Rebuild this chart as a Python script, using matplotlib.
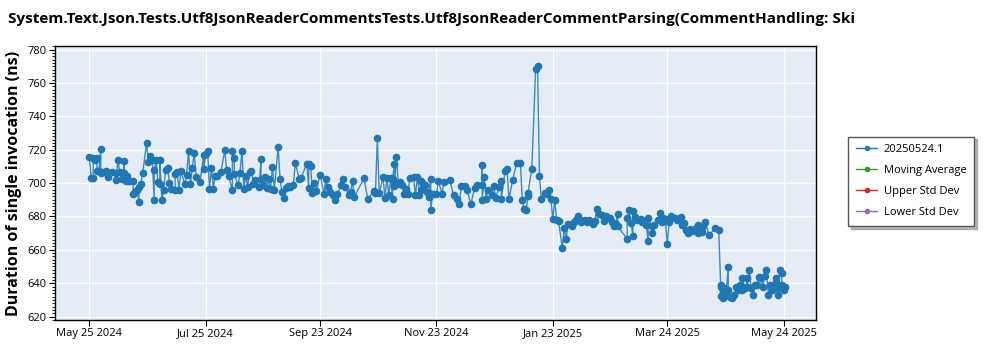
import numpy as np
import matplotlib
matplotlib.use("Agg")
import matplotlib.pyplot as plt
import matplotlib.dates as mdates
from matplotlib.ticker import MultipleLocator

# --- DATA ---
START_DATE = np.datetime64("2024-05-25")

# days after START_DATE for each run
day_offsets = [
    0, 1, 2, 2, 3, 4, 4, 5, 6, 6, 7, 9, 10, 12, 14, 14, 15, 16, 17, 18, 18, 19, 20, 21,
    23, 23, 24, 25, 26, 26, 27, 28, 30, 31, 32, 33, 34, 34, 35, 36, 37, 37, 38, 39, 40,
    41, 42, 43, 45, 45, 46, 47, 48, 50, 51, 52, 53, 54, 55, 56, 58, 60, 60, 61, 62, 63,
    64, 65, 66, 67, 69, 71, 72, 73, 75, 75, 76, 76, 78, 79, 80, 81, 82, 83, 84, 85,
    86, 87, 89, 90, 90, 91, 92, 93, 94, 95, 96, 97, 99, 100, 101, 102, 103, 104, 105,
    107, 108, 110, 111, 114, 115, 115, 116, 117, 118, 119, 121, 123, 124, 125, 126, 128,
    129, 130, 132, 133, 134, 136, 137, 138, 139, 144, 146, 149, 150, 151, 152, 154, 155,
    156, 157, 158, 159, 159, 160, 160, 161, 162, 163, 164, 165, 166, 167, 168, 170, 171,
    172, 173, 174, 174, 175, 176, 177, 178, 178, 179, 179, 180, 182, 183, 185, 186, 189,
    191, 193, 194, 195, 197, 198, 200, 202, 203, 206, 206, 206, 207, 208, 209, 211, 212,
    213, 215, 216, 216, 218, 219, 220, 222, 224, 226, 227, 228, 229, 230, 230, 232, 234,
    235, 236, 237, 239, 240, 241, 242, 243, 244, 245, 246,
    248, 249, 250, 251, 253, 254, 255, 256, 257, 258, 260, 261, 262, 264, 265, 266, 267,
    269, 270, 271, 273, 274, 275, 276, 277, 277, 282, 282, 283, 284, 285, 285, 286, 287,
    289, 290, 292, 293, 293, 295, 295, 296, 298, 299, 300, 301, 302, 303, 304, 305, 307,
    308, 310, 311, 312, 313, 314, 315, 316, 318, 319, 319, 321, 322, 323, 325, 328, 330,
    331, 331, 331, 332, 332, 333, 334, 334, 335, 335, 336, 337, 338, 339, 340, 341, 342,
    342, 344, 345, 345, 346, 347, 348, 349, 350, 351, 352, 353, 354, 355, 356, 357, 358,
    359, 360, 360, 361, 361, 362, 363, 363, 364, 365,
]

# duration of single invocation (ns)
durations = [
    715.5, 703, 703, 714.8, 713.6, 714.8, 707, 707, 720.6, 706, 706.4, 707, 703.5, 706.4,
    706, 702, 714, 706.4, 702.5, 706, 713, 701, 704, 701.5, 701, 693.4, 694.8, 696,
    688.6, 697.7, 699.6, 706, 724, 712.6, 716, 713.6, 690, 707.8, 714, 700.6, 699.6,
    713.6, 690, 695.7, 707.8, 709.3, 700, 696.7, 696, 705.5, 706.4, 695.7, 707.4, 699.2,
    705, 719, 699.2, 709.3, 717.9, 703.5, 700.6, 717, 708.4, 717.5, 719.4, 696.7, 709.3,
    696.7, 704.5, 704.5, 706.4, 719.6, 708, 704, 696, 719, 715, 705.5, 698.7, 706, 719.4,
    696.7, 704.5, 697.7, 706.4, 707,
    699.6, 701.6, 697.7, 714.2, 702.5, 698.7, 703.5, 697.1, 702.5, 696.3, 709.9, 696.1,
    721.6, 702.2, 694.4, 691.3, 697.1, 698.3, 697.7, 699, 712.2, 702.5, 702.9, 711.5,
    697.1, 711.5, 710.3, 693.8, 700.2, 695.2, 704.9, 693.6, 702.2, 697.5, 694.4, 692.8,
    689.9, 693.2, 698.7, 702.2, 697.7, 692.8, 694.8, 701, 691.9, 702.9, 690.3, 695.2,
    693.8, 726.8, 693.8, 703.5, 690.9, 702.9, 692.8, 702.9, 690.5, 702.5, 711.7, 698.3,
    715.5, 699.6, 700.6, 698.7, 693.2, 696.7, 693.2, 702.9, 703.5, 692.8,
    703.6, 692.7, 701, 695.6, 699.2, 698.6, 694.7, 691.7, 694.1, 702.6, 683.8, 693.7,
    693.7, 701, 693.7, 700.6, 701.6, 692.7, 690.3, 687.7, 698, 698.4, 696, 687.3, 697,
    698.6, 698.6, 711.1, 689.7, 703.6, 690.7, 696, 692.7, 698.2, 691.3, 697.6, 701.2,
    690.3, 707.1, 708.5, 690.3, 702, 711.9, 712.3, 689.7, 684.4, 683.8, 692.1, 694.1,
    708.3, 768.5, 770.3, 704.2, 690.3, 694.1, 693.3, 695.6, 690.7, 678.2, 689.7, 677.8,
    677.4,
    661, 673, 666.6, 675.6, 674, 676.4, 677.6, 680.4, 678.4, 676.4, 677.6, 676.4, 678,
    675.6, 677, 684.4, 681.6, 681, 677, 680, 679, 676.4, 674, 675.6, 681.6, 674, 666.6,
    679, 683.6, 676, 668.4, 683, 679.6, 678, 678.4, 676.4, 675, 665, 679, 674, 670, 675,
    677.6, 682, 676.4, 679, 678.4, 663.4, 676.4, 680, 679, 678, 679.6, 675, 676, 672,
    670, 672.4, 671, 673, 670, 675, 670.4, 674, 676.4, 668.6, 673, 672,
    639, 632.2, 638, 635, 631.2, 637, 633, 636, 649.8, 636, 631.6, 631.2, 632.8, 638,
    636, 639, 636, 643.3, 637, 643, 638, 647.8, 637, 632.8, 639, 639, 644, 643, 638,
    644.5, 647.8, 633, 639, 636, 639, 643.3, 641, 633, 637, 647.8, 645.9, 639, 636, 637.5,
]

TITLE = ("System.Text.Json.Tests.Utf8JsonReaderCommentsTests."
         "Utf8JsonReaderCommentParsing(CommentHandling: Ski")
Y_LABEL = "Duration of single invocation (ns)"
SERIES_NAMES = ["20250524.1", "Moving Average", "Upper Std Dev", "Lower Std Dev"]
SERIES_COLORS = ["#1f77b4", "#2ca02c", "#d62728", "#9467bd"]
TICK_DATES = ["2024-05-25", "2024-07-25", "2024-09-23", "2024-11-23",
              "2025-01-23", "2025-03-24", "2025-05-24"]

plt.rcParams["font.family"] = ["Open Sans", "DejaVu Sans"]

dates = START_DATE + np.array(day_offsets).astype("timedelta64[D]")

fig = plt.figure(figsize=(10, 3.5), dpi=100)
ax = fig.add_axes([0.055, 0.086, 0.761, 0.782])
ax.set_facecolor("#E5ECF6")

# the measured series: thin line + solid dots
ax.plot(dates, durations, "-", color=SERIES_COLORS[0], lw=1.0, alpha=0.85, zorder=3)
ax.plot(dates, durations, "o", color=SERIES_COLORS[0], ms=4.5, zorder=4)

# legend handles (the stats series are not drawn in the reference)
handles = []
for name, col in zip(SERIES_NAMES, SERIES_COLORS):
    h, = ax.plot([], [], "-o", color=col, lw=1.0, ms=3, label=name)
    handles.append(h)

ax.set_xlim(np.datetime64("2024-05-07"), np.datetime64("2025-06-10"))
ax.set_ylim(618, 782)

ticks = [np.datetime64(d) for d in TICK_DATES]
ax.set_xticks(ticks)
ax.xaxis.set_major_formatter(mdates.DateFormatter("%b %d %Y"))
ax.yaxis.set_major_locator(MultipleLocator(20))
ax.yaxis.set_minor_locator(MultipleLocator(2))
ax.tick_params(axis="both", labelsize=8, length=4, color="black", pad=2)
ax.tick_params(axis="y", which="minor", length=2)

ax.grid(True, color="white", lw=1.0)
ax.set_axisbelow(True)
for sp in ax.spines.values():
    sp.set_color("black")
    sp.set_linewidth(1.0)

ax.set_ylabel(Y_LABEL, fontsize=11.5, fontweight="bold", labelpad=4)
fig.text(0.008, 0.945, TITLE, fontsize=11, fontweight="bold", ha="left", va="center")

leg = ax.legend(handles=handles, loc="upper left", bbox_to_anchor=(1.035, 0.69),
                fontsize=8, frameon=True, fancybox=False,
                shadow={"ox": 2, "oy": -2, "color": "#777777"},
                borderpad=0.7, labelspacing=0.9, handlelength=1.9,
                handletextpad=0.6)
leg.get_frame().set_edgecolor("#555555")

fig.savefig("out.png", dpi=100)
